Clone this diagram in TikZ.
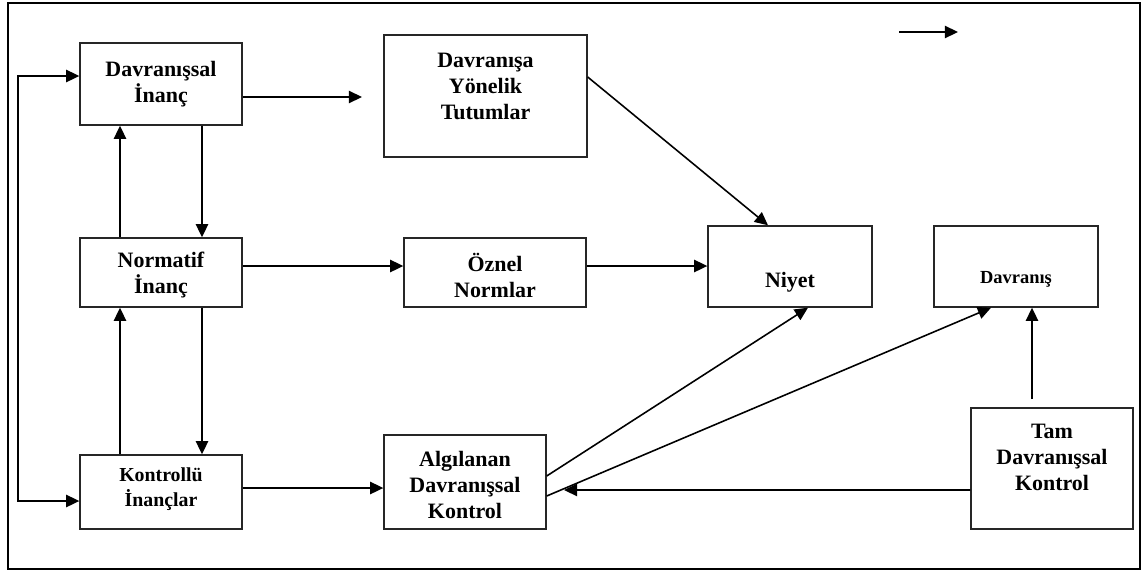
\documentclass[tikz,border=0pt]{standalone}
\usepackage{fontspec}
\setmainfont{Liberation Serif}
\usetikzlibrary{arrows.meta,calc}
\tikzset{
  box/.style={draw=black!85, line width=0.8pt, inner sep=0},
  txt/.style={font=\fontsize{12.5}{14.8}\selectfont\bfseries, align=center, inner sep=0},
  arr/.style={line width=0.9pt, >={Triangle[length=7.5pt,width=7pt]}},
}
\begin{document}
\begin{tikzpicture}[x=0.02cm, y=-0.02cm]
\useasboundingbox (0,0) rectangle (1145,572);
\draw[line width=1.6pt] (8,3) rectangle (1140,569);

% boxes
\node[box, minimum width=3.24cm, minimum height=1.64cm] (dinanc) at (161,84) {};
\node[box, minimum width=4.06cm, minimum height=2.44cm] (tutum) at (485.5,96) {};
\node[box, minimum width=3.24cm, minimum height=1.38cm] (ninanc) at (161,272.5) {};
\node[box, minimum width=3.64cm, minimum height=1.38cm] (oznel) at (495,272.5) {};
\node[box, minimum width=3.28cm, minimum height=1.62cm] (niyet) at (790,266.5) {};
\node[box, minimum width=3.28cm, minimum height=1.62cm] (davr) at (1016,266.5) {};
\node[box, minimum width=3.24cm, minimum height=1.48cm] (kinanc) at (161,492) {};
\node[box, minimum width=3.24cm, minimum height=1.88cm] (algi) at (465,482) {};
\node[box, minimum width=3.24cm, minimum height=2.42cm] (tam) at (1052,468.5) {};

% texts
\node[txt] (dinancT) at (161,84) {Davranışsal\\İnanç};
\node[txt] (tutumT) at (485.5,86) {Davranışa\\Yönelik\\Tutumlar};
\node[txt] (ninancT) at (161,275) {Normatif\\İnanç};
\node[txt] (oznelT) at (495,275) {Öznel\\Normlar};
\node[txt] (niyetT) at (790,282) {Niyet};
\node[txt, font=\fontsize{10.5}{13}\selectfont\bfseries] (davrT) at (1016,279) {Davranış};
\node[txt, font=\fontsize{11.3}{14}\selectfont\bfseries] (kinancT) at (161,489) {Kontrollü\\İnançlar};
\node[txt] (algiT) at (465,485) {Algılanan\\Davranışsal\\Kontrol};
\node[txt] (tamT) at (1052,457) {Tam\\Davranışsal\\Kontrol};

% free ends
\coordinate (fb) at (18,0);
\coordinate (fbA) at ($(dinanc.west)+(0,-8)$);
\coordinate (fbB) at ($(kinanc.west)+(0,9)$);
\coordinate (dend) at (362,97);
\coordinate (tamend) at (564,490);
\coordinate (tamtop) at (1032,399);
\coordinate (lgA) at (899,32);
\coordinate (lgB) at (958,32);

% connectors
\draw[arr,<->] (fbA) -- (fbA -| fb) -- (fbB -| fb) -- (fbB);
\draw[arr,->] (dinanc.east |- dend) -- (dend);
\draw[arr,->] ($(dinanc.south)+(41,0)$) -- ($(ninanc.north)+(41,0)$);
\draw[arr,->] ($(ninanc.north)+(-41,0)$) -- ($(dinanc.south)+(-41,0)$);
\draw[arr,->] ($(ninanc.south)+(41,0)$) -- ($(kinanc.north)+(41,0)$);
\draw[arr,->] ($(kinanc.north)+(-41,0)$) -- ($(ninanc.south)+(-41,0)$);
\draw[arr,->] ($(ninanc.east)+(0,-6.5)$) -- ($(oznel.west)+(0,-6.5)$);
\draw[arr,->] ($(oznel.east)+(0,-6.5)$) -- ($(niyet.west)+(0,-0.5)$);
\draw[arr,->] ($(tutum.east)+(0,-19)$) -- ($(niyet.north)+(-22,0)$);
\draw[arr,->] ($(kinanc.east)+(0,-4)$) -- ($(algi.west)+(0,6)$);
\draw[arr,->] ($(algi.east)+(0,-6)$) -- ($(niyet.south)+(18,0)$);
\draw[arr,->] ($(algi.east)+(0,14)$) -- ($(davr.south)+(-25,0)$);
\draw[arr,->] ($(tam.west)+(0,21.5)$) -- (tamend);
\draw[arr,->] (tamtop) -- (tamtop |- davr.south);
\draw[arr,->] (lgA) -- (lgB);
\end{tikzpicture}
\end{document}
